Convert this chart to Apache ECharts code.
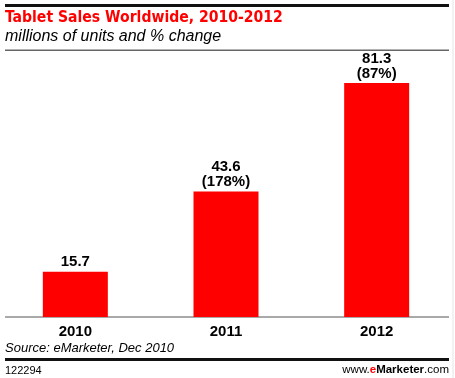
<!DOCTYPE html>
<html>
<head>
<meta charset="utf-8">
<script src="https://cdn.jsdelivr.net/npm/echarts@6/dist/echarts.min.js"></script>
<style>
html,body{margin:0;padding:0;background:#fff;}
#chart{width:455px;height:378px;}
</style>
</head>
<body>
<div id="chart"></div>
<script>
const categories = ['2010', '2011', '2012'];
const units = [15.7, 43.6, 81.3];
const pctChange = [null, '178%', '87%'];

const chart = echarts.init(document.getElementById('chart'), null, {renderer: 'canvas'});
const labelFont = '"Liberation Sans", Arial, sans-serif';

chart.setOption({
  animation: false,
  backgroundColor: '#ffffff',
  grid: {left: -1, right: 3, top: 58, bottom: 61, containLabel: false},
  xAxis: {
    type: 'category',
    data: categories,
    axisLine: {show: false},
    axisTick: {show: false},
    axisLabel: {
      color: '#000', fontWeight: 'bold', fontSize: 15, fontFamily: labelFont, margin: 7
    }
  },
  yAxis: {type: 'value', min: 0, max: 90, show: false, splitLine: {show: false}},
  series: [{
    type: 'bar',
    data: units,
    barWidth: 65,
    itemStyle: {color: '#ff0000'},
    label: {
      show: true,
      position: 'top',
      distance: 2,
      color: '#000',
      fontWeight: 'bold',
      fontSize: 15,
      lineHeight: 15,
      fontFamily: labelFont,
      formatter: p => pctChange[p.dataIndex] ? units[p.dataIndex].toFixed(1) + '\n(' + pctChange[p.dataIndex] + ')' : units[p.dataIndex].toFixed(1)
    }
  }],
  graphic: [
    {type: 'rect', shape: {x: 5, y: 4, width: 444, height: 3}, style: {fill: '#111'}, silent: true},
    {type: 'text', left: 5, top: 10, style: {text: 'Tablet Sales Worldwide, 2010-2012', fill: '#ff0000', font: 'bold 15.6px "DejaVu Sans Condensed", "DejaVu Sans", sans-serif'}},
    {type: 'text', left: 5, top: 29, style: {text: 'millions of units and % change', fill: '#000', font: 'italic 16px "Liberation Sans", Arial, sans-serif'}},
    {type: 'rect', shape: {x: 5, y: 49.5, width: 444, height: 1.5}, style: {fill: '#666'}, silent: true},
    {type: 'rect', shape: {x: 5, y: 316.5, width: 444, height: 1}, style: {fill: '#555'}, silent: true},
    {type: 'text', left: 5, top: 342, style: {text: 'Source: eMarketer, Dec 2010', fill: '#000', font: 'italic 13px "Liberation Sans", Arial, sans-serif'}},
    {type: 'rect', shape: {x: 5, y: 358, width: 444, height: 3}, style: {fill: '#111'}, silent: true},
    {type: 'text', left: 5, top: 365, style: {text: '122294', fill: '#000', font: '11px "Liberation Sans", Arial, sans-serif'}},
    {type: 'text', right: 6, top: 364, style: {
      text: '{w|www.}{e|e}{m|Marketer}{w|.com}',
      rich: {
        w: {fill: '#000', font: '11.5px "Liberation Sans", Arial, sans-serif'},
        e: {fill: '#ff0000', font: 'bold 11.5px "Liberation Sans", Arial, sans-serif'},
        m: {fill: '#000', font: 'bold 11.5px "Liberation Sans", Arial, sans-serif'}
      }
    }},
    {type: 'rect', shape: {x: 452.5, y: 0, width: 1, height: 378}, style: {fill: '#e6e6e6'}, silent: true}
  ]
});
</script>
</body>
</html>
